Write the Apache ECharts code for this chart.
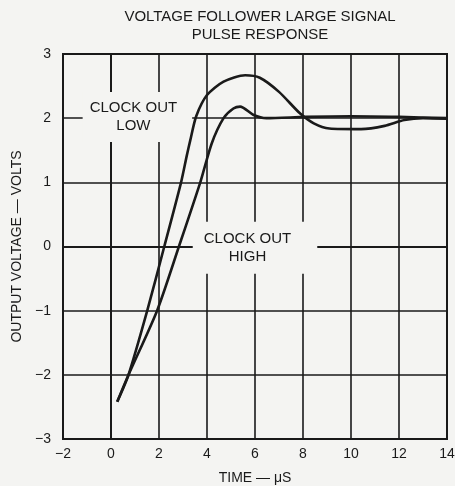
<!DOCTYPE html>
<html>
<head>
<meta charset="utf-8">
<script src="https://cdn.jsdelivr.net/npm/echarts@6/dist/echarts.min.js"></script>
<style>
  html, body { margin: 0; padding: 0; background: #f4f4f2; }
  #chart { width: 455px; height: 486px; }
</style>
</head>
<body>
<div id="chart"></div>
<script>
// 时间轴 (μS)
var xTicks = [-2, 0, 2, 4, 6, 8, 10, 12, 14]
var yTicks = [-3, -2, -1, 0, 1, 2, 3]

// 大过冲曲线
var curveA = [
  [0.26, -2.42], [0.73, -2.0], [1.51, -1.0], [2.22, 0.0], [2.92, 1.0],
  [3.16, 1.42], [3.3, 1.65], [3.55, 2.03], [4.0, 2.36], [4.69, 2.57],
  [5.59, 2.67], [6.2, 2.63], [7.0, 2.41], [7.86, 2.08], [8.45, 1.92],
  [9.1, 1.84], [10.42, 1.83], [11.4, 1.88], [12.22, 1.97], [13.0, 2.0],
  [14.0, 1.99]
]
// 小过冲曲线
var curveB = [
  [0.26, -2.42], [0.73, -2.0], [1.92, -1.0], [2.83, 0.0], [3.72, 1.0],
  [4.2, 1.61], [4.69, 2.0], [5.1, 2.15], [5.38, 2.18], [5.94, 2.05],
  [6.48, 2.0], [8.1, 2.02], [10.0, 2.03], [12.0, 2.02], [14.0, 2.0]
]
// 文字标注位置 (数据坐标)
var notes = [
  { value: [1.1, 2.02], text: 'CLOCK OUT\nLOW', pad: [8, 15, 6, 7] },
  { value: [6.0, -0.02], text: 'CLOCK OUT\nHIGH', pad: [8, 26, 8, 11] }
]

var FONT = '"Liberation Sans", Arial, sans-serif'
var INK = '#1a1a1a'
var PAPER = '#f4f4f2'

function fmt (v) {
  return v < 0 ? '\u2212' + Math.abs(v) : String(v)
}

var myChart = echarts.init(document.getElementById('chart'))
myChart.setOption({
  backgroundColor: PAPER,
  animation: false,
  title: {
    text: 'VOLTAGE FOLLOWER LARGE SIGNAL\nPULSE RESPONSE',
    left: 255,
    textAlign: 'center',
    top: 3,
    textStyle: {
      fontFamily: FONT,
      fontWeight: 'normal',
      fontSize: 15,
      lineHeight: 18,
      color: INK
    }
  },
  grid: {
    left: 63,
    right: 8,
    top: 54,
    bottom: 47,
    outerBoundsMode: 'none',
    show: true,
    borderColor: INK,
    borderWidth: 2
  },
  xAxis: {
    type: 'value',
    min: -2,
    max: 14,
    interval: 2,
    name: 'TIME \u2014 \u03bcS',
    nameLocation: 'middle',
    nameGap: 32,
    nameTextStyle: { fontFamily: FONT, fontSize: 14, color: INK },
    axisLine: { show: true, lineStyle: { color: INK, width: 2 } },
    axisTick: { show: false },
    axisLabel: {
      fontFamily: FONT, fontSize: 14, color: INK, margin: 8,
      formatter: fmt
    },
    splitLine: { show: true, lineStyle: { color: INK, width: 1.6 } }
  },
  yAxis: {
    type: 'value',
    min: -3,
    max: 3,
    interval: 1,
    name: 'OUTPUT VOLTAGE \u2014 VOLTS',
    nameLocation: 'middle',
    nameGap: 38,
    nameTextStyle: { fontFamily: FONT, fontSize: 14, color: INK },
    axisLine: { show: true, lineStyle: { color: INK, width: 2 } },
    axisTick: { show: false },
    axisLabel: {
      fontFamily: FONT, fontSize: 14, color: INK, margin: 12,
      formatter: fmt
    },
    splitLine: { show: true, lineStyle: { color: INK, width: 1.6 } }
  },
  series: [
    {
      // 标注文字，底色遮住网格线
      type: 'scatter',
      symbolSize: 0,
      z: 3,
      silent: true,
      itemStyle: { opacity: 1 },
      data: notes.map(function (n) {
        return {
          value: n.value,
          label: {
            show: true,
            position: 'inside',
            formatter: n.text,
            fontFamily: FONT,
            fontSize: 15,
            lineHeight: 18,
            color: INK,
            align: 'center',
            backgroundColor: PAPER,
            padding: n.pad
          }
        }
      })
    },
    {
      name: 'A',
      type: 'line',
      z: 5,
      data: curveA,
      smooth: 0.25,
      symbol: 'none',
      lineStyle: { color: INK, width: 2.6 }
    },
    {
      name: 'B',
      type: 'line',
      z: 5,
      data: curveB,
      smooth: 0.25,
      symbol: 'none',
      lineStyle: { color: INK, width: 2.6 }
    }
  ]
})
</script>
</body>
</html>
